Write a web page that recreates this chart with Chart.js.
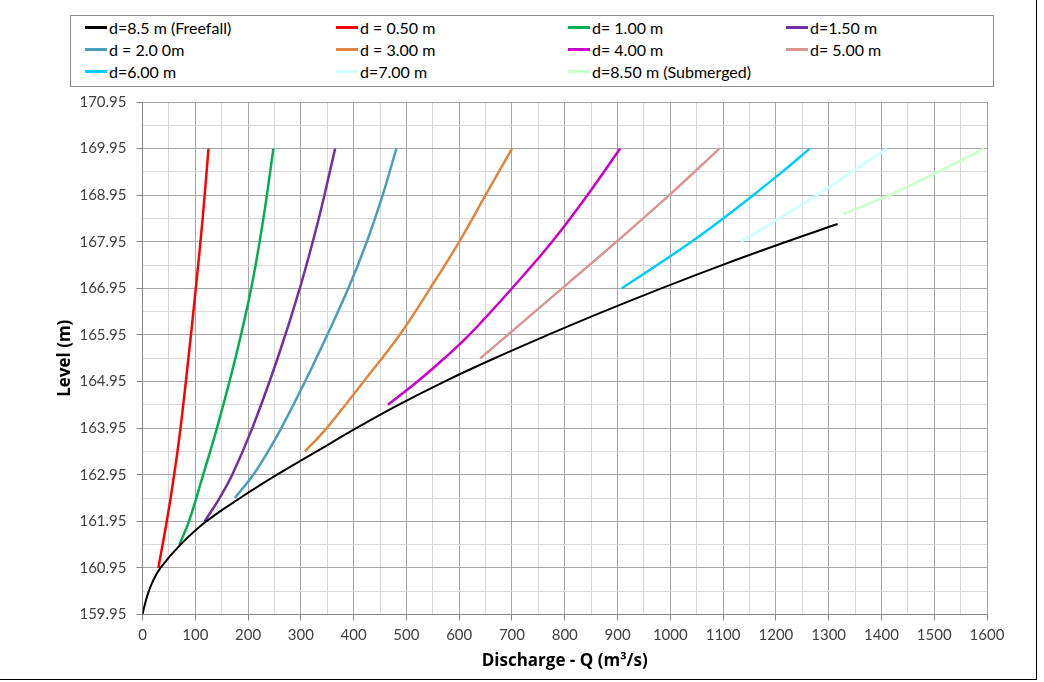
<!DOCTYPE html>
<html>
<head>
<meta charset="utf-8">
<script src="https://cdn.jsdelivr.net/npm/chart.js@4.4.0/dist/chart.umd.min.js"></script>
<style>
    body { margin: 0; background: #fff; font-family: Lato, "Open Sans", sans-serif; }
    #wrap { position: relative; width: 1044px; height: 682px; }
    #frame { position: absolute; left: -2px; top: -2px; width: 1039px; height: 682px; border: 1px solid #000; box-sizing: border-box; }
    #legend { position: absolute; left: 70px; top: 15px; width: 924px; height: 72px; border: 1px solid #8c8c8c; box-sizing: border-box; background: #fff; }
    .item { position: absolute; font-size: 16px; color: #000; display: flex; align-items: center; white-space: nowrap; height: 20px; }
    .sw { display: inline-block; width: 22px; height: 3px; margin-right: 2px; }
    canvas { position: absolute; left: 0; top: 0; }
</style>
</head>
<body>
<div id="wrap">
    <canvas id="myChart" width="1044" height="682"></canvas>
    <div id="frame"></div>
    <div id="legend"></div>
</div>
<script>
// discharge Q (m3/s) and level (m)
const qFree = [0, 3, 9, 19, 34, 72, 121, 185, 255, 330, 405, 485, 572, 667, 768, 873, 983, 1098, 1220, 1317];
const lvlFree = [159.95, 160.1, 160.35, 160.65, 160.95, 161.45, 161.95, 162.45, 162.95, 163.45, 163.95, 164.45, 164.95, 165.45, 165.95, 166.45, 166.95, 167.45, 167.95, 168.33];

const q050 = [30, 46, 60, 72, 87, 101, 114, 125];
const lvl050 = [160.95, 161.95, 162.95, 163.95, 165.45, 166.95, 168.45, 169.95];

const q100 = [70, 88, 115, 141, 176, 206, 229, 248];
const lvl100 = [161.45, 161.95, 162.95, 163.95, 165.45, 166.95, 168.45, 169.95];

const q150 = [118, 146, 170, 208, 256, 298, 334, 365];
const lvl150 = [161.95, 162.45, 162.95, 163.95, 165.45, 166.95, 168.45, 169.95];

const q200 = [175, 210, 238, 263, 308, 350, 390, 425, 455, 481];
const lvl200 = [162.45, 162.95, 163.45, 163.95, 164.95, 165.95, 166.95, 167.95, 168.95, 169.95];

const q300 = [308, 349, 419, 487, 545, 600, 650, 700];
const lvl300 = [163.45, 163.95, 164.95, 165.95, 166.95, 167.95, 168.95, 169.95];

const q400 = [465, 521, 572, 619, 700, 776, 843, 905];
const lvl400 = [164.45, 164.95, 165.45, 165.95, 166.95, 167.95, 168.95, 169.95];

const q500 = [640, 692, 795, 898, 998, 1093];
const lvl500 = [165.45, 165.95, 166.95, 167.95, 168.95, 169.95];

const q600 = [908, 975, 1040, 1100, 1157, 1212, 1264];
const lvl600 = [166.95, 167.45, 167.95, 168.45, 168.95, 169.45, 169.95];

const q700 = [1134, 1280, 1410];
const lvl700 = [167.95, 168.97, 169.95];

const q850 = [1328, 1419, 1595];
const lvl850 = [168.55, 168.97, 169.95];

const seriesNames = ['d=8.5 m (Freefall)', 'd = 0.50 m', 'd= 1.00 m', 'd=1.50 m',
    'd = 2.0 0m', 'd = 3.00 m', 'd= 4.00 m', 'd= 5.00 m',
    'd=6.00 m', 'd=7.00 m', 'd=8.50 m (Submerged)'];
const seriesColors = ['#000000', '#FF0000', '#00B050', '#7030A0',
    '#4A9EBA', '#E0863E', '#CC00CC', '#D99694',
    '#00CCFF', '#CCFFFF', '#CCFFCC'];
const seriesQ = [qFree, q050, q100, q150, q200, q300, q400, q500, q600, q700, q850];
const seriesLvl = [lvlFree, lvl050, lvl100, lvl150, lvl200, lvl300, lvl400, lvl500, lvl600, lvl700, lvl850];

// axis ticks: labelled every 100 / 1 m, minor grid every 50 / 0.5 m
let xTicks = [];
for (let v = 0; v <= 1600; v += 50) xTicks.push(v);
let yTicks = [];
for (let k = 0; k <= 22; k++) yTicks.push(Math.round((159.95 + k * 0.5) * 100) / 100);

function isMajorX(v) { return v % 100 === 0; }
function isMajorY(v) { return Math.round((v - 159.95) * 100) % 100 === 0; }

let datasets = seriesNames.map(function(name, i) {
    return {
        label: name,
        data: seriesQ[i].map(function(q, j) { return { x: q, y: seriesLvl[i][j] }; }),
        borderColor: seriesColors[i],
        backgroundColor: seriesColors[i],
        borderWidth: i === 0 ? 2 : 2.5,
        pointRadius: 0,
        showLine: true,
        tension: 0.4,
        fill: false
    };
});

// legend drawn as html, laid out like the original
const legendCols = [85, 336, 568, 786];
const legendRows = [27, 49, 71];
let legend = document.getElementById('legend');
seriesNames.forEach(function(name, i) {
    let div = document.createElement('div');
    div.className = 'item';
    div.style.left = (legendCols[i % 4] - 71) + 'px';
    div.style.top = (legendRows[Math.floor(i / 4)] - 16 - 10) + 'px';
    div.innerHTML = '<span class="sw" style="background:' + seriesColors[i] + '"></span>' + name;
    legend.appendChild(div);
});

Chart.defaults.font.family = 'Lato, "Open Sans", sans-serif';
Chart.defaults.color = '#404040';

let ctx = document.getElementById('myChart').getContext('2d');
let chart = new Chart(ctx, {
    type: 'scatter',
    data: { datasets: datasets },
    options: {
        responsive: false,
        animation: false,
        layout: { padding: { left: 50, top: 102, right: 57, bottom: 10 } },
        plugins: { legend: { display: false }, tooltip: { enabled: false } },
        scales: {
            x: {
                type: 'linear',
                min: 0,
                max: 1600,
                afterBuildTicks: function(scale) { scale.ticks = xTicks.map(function(v) { return { value: v }; }); },
                afterFit: function(scale) { scale.height = 57.5; },
                ticks: {
                    autoSkip: false,
                    maxRotation: 0,
                    padding: 6,
                    color: '#404040',
                    font: { size: 15 },
                    callback: function(v) { return isMajorX(v) ? String(v) : ''; }
                },
                grid: {
                    color: function(c) { return c.tick && isMajorX(c.tick.value) ? '#a6a6a6' : '#d9d9d9'; },
                    tickColor: function(c) { return c.tick && isMajorX(c.tick.value) ? '#868686' : 'rgba(0,0,0,0)'; },
                    tickLength: 6,
                    lineWidth: 1
                },
                border: { color: '#868686', width: 1 },
                title: {
                    display: true,
                    text: 'Discharge - Q (m³/s)',
                    color: '#000',
                    font: { family: '"Open Sans", Lato, sans-serif', size: 17, weight: 'bold' },
                    padding: { top: 0, bottom: 1 }
                }
            },
            y: {
                type: 'linear',
                min: 159.95,
                max: 170.95,
                afterBuildTicks: function(scale) { scale.ticks = yTicks.map(function(v) { return { value: v }; }); },
                afterFit: function(scale) { scale.width = 92.5; },
                ticks: {
                    autoSkip: false,
                    padding: 10,
                    color: '#404040',
                    font: { size: 15 },
                    callback: function(v) { return isMajorY(v) ? v.toFixed(2) : ''; }
                },
                grid: {
                    color: function(c) { return c.tick && isMajorY(c.tick.value) ? '#a6a6a6' : '#d9d9d9'; },
                    tickColor: function(c) { return c.tick && isMajorY(c.tick.value) ? '#868686' : 'rgba(0,0,0,0)'; },
                    tickLength: 6,
                    lineWidth: 1
                },
                border: { color: '#868686', width: 1 },
                title: {
                    display: true,
                    text: 'Level (m)',
                    color: '#000',
                    font: { family: '"Open Sans", Lato, sans-serif', size: 17, weight: 'bold' },
                    padding: { top: 5, bottom: 0 }
                }
            }
        }
    }
});
</script>
</body>
</html>
